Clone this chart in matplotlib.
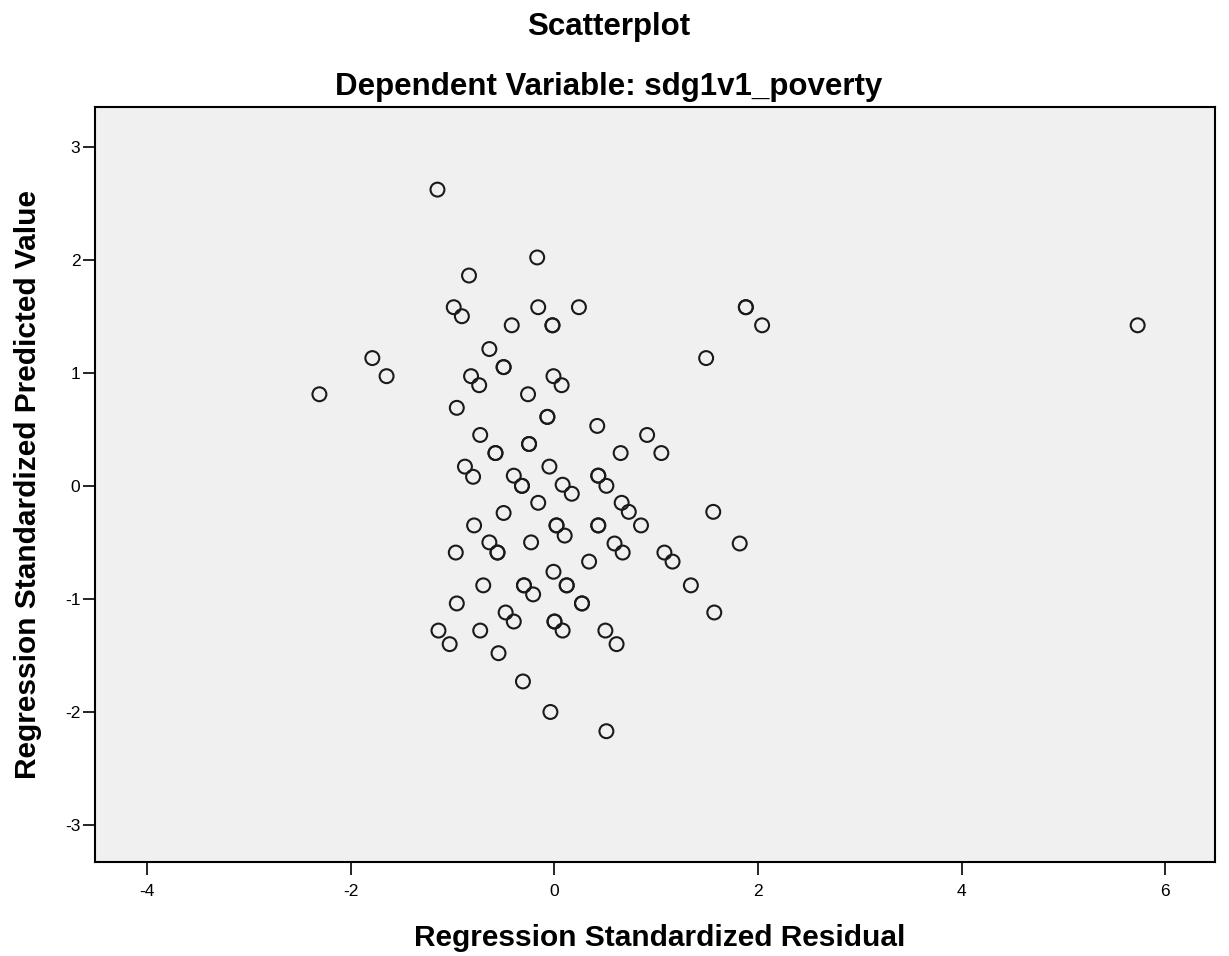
import matplotlib.pyplot as plt

plt.rcParams['font.family'] = ['Liberation Sans', 'DejaVu Sans']
plt.rcParams['axes.unicode_minus'] = False

# standardized residual (x) and standardized predicted value (y)
resid = [-1.15, -0.17, -0.84, -0.99, -0.91, -0.16, 0.24, -0.02, -0.02, -0.42,
         -0.64, -0.50, -0.50, -1.79, -1.65, -2.31, -0.82, -0.74, -0.01, 0.07,
         -0.26, -0.96, -0.07, -0.07, 0.42, -0.73, -0.25, -0.25, 0.91, 0.65,
         1.05, -0.58, -0.58, -0.88, -0.80, -0.40, -0.32, -0.32, -0.05, 0.08,
         0.17, 0.43, 0.43, 0.51, -0.16, -0.50, 0.66, 0.73, 1.56, -0.79,
         0.02, 0.02, 0.10, 0.43, 0.43, 0.85, -0.64, -0.56, -0.56, -0.97,
         -0.23, 0.34, 0.59, 0.67, 1.08, 1.16, -0.01, -0.70, -0.30, -0.30,
         -0.21, 0.12, 0.12, 1.34, 0.27, 0.27, -0.96, 1.57, -0.48, -0.40,
         -1.14, -1.03, -0.73, 0.00, 0.00, 0.08, 0.50, 0.61, -0.55, -0.31,
         -0.04, 0.51, 1.88, 1.88, 2.04, 1.49, 1.82, 5.73]
pred = [2.62, 2.02, 1.86, 1.58, 1.50, 1.58, 1.58, 1.42, 1.42, 1.42,
        1.21, 1.05, 1.05, 1.13, 0.97, 0.81, 0.97, 0.89, 0.97, 0.89,
        0.81, 0.69, 0.61, 0.61, 0.53, 0.45, 0.37, 0.37, 0.45, 0.29,
        0.29, 0.29, 0.29, 0.17, 0.08, 0.09, 0.00, 0.00, 0.17, 0.01,
        -0.07, 0.09, 0.09, 0.00, -0.15, -0.24, -0.15, -0.23, -0.23, -0.35,
        -0.35, -0.35, -0.44, -0.35, -0.35, -0.35, -0.50, -0.59, -0.59, -0.59,
        -0.50, -0.67, -0.51, -0.59, -0.59, -0.67, -0.76, -0.88, -0.88, -0.88,
        -0.96, -0.88, -0.88, -0.88, -1.04, -1.04, -1.04, -1.12, -1.12, -1.20,
        -1.28, -1.40, -1.28, -1.20, -1.20, -1.28, -1.28, -1.40, -1.48, -1.73,
        -2.00, -2.17, 1.58, 1.58, 1.42, 1.13, -0.51, 1.42]

x_ticks = [-4, -2, 0, 2, 4, 6]
y_ticks = [-3, -2, -1, 0, 1, 2, 3]

fig = plt.figure(figsize=(12.29, 9.56), dpi=100)
ax = fig.add_axes([0.0773, 0.0983, 0.9113, 0.7897])
ax.set_facecolor('#f0f0f0')

ax.scatter(resid, pred, s=100, facecolors='none', edgecolors='#1a1a1a',
           linewidths=1.5, zorder=3)

ax.set_xlim(-4.515, 6.49)
ax.set_ylim(-3.327, 3.35)
ax.set_xticks(x_ticks)
ax.set_yticks(y_ticks)
ax.tick_params(direction='out', length=9, width=1.2, labelsize=12.5)
ax.tick_params(axis='x', pad=7)
ax.tick_params(axis='y', pad=1.5)
for s in ax.spines.values():
    s.set_linewidth(1.5)

# axis titles
fig.text(0.5366, 0.0188, 'Regression Standardized Residual', ha='center',
         va='center', fontsize=21.5, fontweight='bold')
fig.text(0.0228, 0.4927, 'Regression Standardized Predicted Value',
         ha='center', va='center', rotation=90, fontsize=21.5,
         fontweight='bold')

fig.text(0.495, 0.9634, 'Scatterplot', ha='center', va='baseline',
         fontsize=22.5, fontweight='bold')
fig.text(0.495, 0.9006, 'Dependent Variable: sdg1v1_poverty', ha='center',
         va='baseline', fontsize=22.5, fontweight='bold')

fig.savefig('out.png', dpi=100)
